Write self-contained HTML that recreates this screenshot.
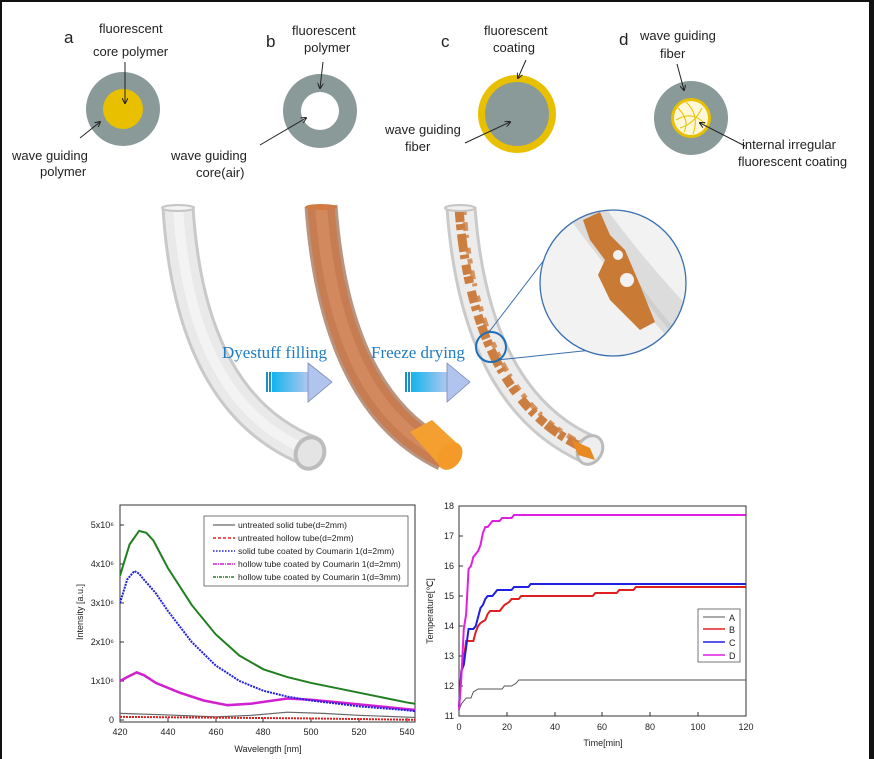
<!DOCTYPE html>
<html><head><meta charset="utf-8"><style>
html,body{margin:0;padding:0;background:#fff;}
svg{display:block;}
.t{font-family:"Liberation Sans",sans-serif;font-size:13px;fill:#222;}
.l{font-family:"Liberation Sans",sans-serif;font-size:17px;fill:#222;}
.ax{font-family:"Liberation Sans",sans-serif;font-size:9px;fill:#222;}
.lg{font-family:"Liberation Sans",sans-serif;font-size:8.5px;fill:#222;}
.bl{font-family:"Liberation Serif",serif;font-size:17px;fill:#1e7bc4;}
</style></head><body>
<svg width="874" height="759" viewBox="0 0 874 759" xmlns="http://www.w3.org/2000/svg">
<defs>
<linearGradient id="ag" x1="0" y1="0" x2="1" y2="0"><stop offset="0" stop-color="#12b4ec"/><stop offset="1" stop-color="#b8c8f0"/></linearGradient>
<marker id="ah" markerWidth="6" markerHeight="6" refX="5" refY="3" orient="auto"><path d="M0,0 L6,3 L0,6" fill="none" stroke="#222" stroke-width="1"/></marker>
<clipPath id="c1"><rect x="120" y="505" width="295" height="217"/></clipPath>
<clipPath id="cz"><circle cx="613" cy="283" r="73"/></clipPath>
</defs>
<rect x="0" y="0" width="874" height="2" fill="#111"/>
<rect x="0" y="0" width="2" height="759" fill="#111"/>
<rect x="869" y="0" width="5" height="759" fill="#111"/>

<!-- top diagrams -->
<text class="l" x="64" y="43">a</text>
<text class="t" x="99" y="33">fluorescent</text>
<text class="t" x="93" y="56">core polymer</text>
<circle cx="123" cy="109" r="37" fill="#8a9a98"/>
<circle cx="123" cy="109" r="20" fill="#e8c000"/>
<line x1="125" y1="62" x2="125" y2="103" stroke="#222" marker-end="url(#ah)"/>
<line x1="80" y1="138" x2="100" y2="122" stroke="#222" marker-end="url(#ah)"/>
<text class="t" x="12" y="160">wave guiding</text>
<text class="t" x="40" y="176">polymer</text>

<text class="l" x="266" y="47">b</text>
<text class="t" x="292" y="35">fluorescent</text>
<text class="t" x="304" y="52">polymer</text>
<circle cx="320" cy="111" r="37" fill="#8a9a98"/>
<circle cx="320" cy="111" r="19" fill="#fff"/>
<line x1="323" y1="62" x2="320" y2="88" stroke="#222" marker-end="url(#ah)"/>
<line x1="260" y1="145" x2="306" y2="118" stroke="#222" marker-end="url(#ah)"/>
<text class="t" x="171" y="160">wave guiding</text>
<text class="t" x="196" y="177">core(air)</text>

<text class="l" x="441" y="47">c</text>
<text class="t" x="484" y="35">fluorescent</text>
<text class="t" x="493" y="52">coating</text>
<circle cx="517" cy="114" r="39" fill="#e8c000"/>
<circle cx="517" cy="114" r="32" fill="#8a9a98"/>
<line x1="526" y1="60" x2="518" y2="78" stroke="#222" marker-end="url(#ah)"/>
<line x1="465" y1="143" x2="510" y2="122" stroke="#222" marker-end="url(#ah)"/>
<text class="t" x="385" y="134">wave guiding</text>
<text class="t" x="405" y="151">fiber</text>

<text class="l" x="619" y="45">d</text>
<text class="t" x="640" y="40">wave guiding</text>
<text class="t" x="660" y="58">fiber</text>
<circle cx="691" cy="118" r="37" fill="#8a9a98"/>
<circle cx="691" cy="118" r="20" fill="#e8c000"/>
<circle cx="691" cy="118" r="17" fill="#fff8d8"/>
<path d="M678,108 Q690,120 684,132 M686,102 Q700,115 693,134 M676,120 Q692,110 705,124 M680,128 Q694,124 702,108" stroke="#e8c000" stroke-width="1" fill="none"/>
<line x1="677" y1="64" x2="684" y2="90" stroke="#222" marker-end="url(#ah)"/>
<line x1="745" y1="146" x2="700" y2="123" stroke="#222" marker-end="url(#ah)"/>
<text class="t" x="742" y="149">internal  irregular</text>
<text class="t" x="738" y="166">fluorescent coating</text>

<!-- tubes -->
<path d="M178,207 Q190,405 312,452" stroke="#c9c9c9" stroke-width="33" fill="none"/>
<path d="M178,207 Q190,405 312,452" stroke="#e9e9e9" stroke-width="27" fill="none"/>
<path d="M178,207 Q190,405 312,452" stroke="#f3f3f3" stroke-width="10" fill="none"/>
<ellipse cx="178" cy="208" rx="16" ry="3" fill="#f3f3f3" stroke="#c5c5c5" stroke-width="2"/>
<ellipse cx="310" cy="453" rx="14" ry="16" transform="rotate(25 310 453)" fill="#e4e4e4" stroke="#bdbdbd" stroke-width="4"/>

<path d="M321,206 Q335,402 445,455" stroke="#b89580" stroke-width="33" fill="none"/>
<path d="M321,206 Q335,402 445,455" stroke="#c87c52" stroke-width="27" fill="none"/>
<path d="M321,206 Q335,402 445,455" stroke="#d2895e" stroke-width="12" fill="none"/>
<ellipse cx="321" cy="207" rx="16" ry="3" fill="#d07a44"/>
<path d="M410,432 L432,420 L462,448 L440,466 Z" fill="#f4a030"/>
<ellipse cx="450" cy="456" rx="11" ry="15" transform="rotate(35 450 456)" fill="#f39a28"/>

<path d="M461,208 Q475,400 590,450" stroke="#cacaca" stroke-width="31" fill="none"/>
<path d="M461,208 Q475,400 590,450" stroke="#ececec" stroke-width="25" fill="none"/>
<path d="M459,208 Q473,400 588,450" stroke="#c8722e" stroke-width="9" stroke-dasharray="14 2 6 4 18 3 4 6 10 2 7 8 12 3 5 5 9 2" fill="none" opacity="0.9"/>
<path d="M464,210 Q478,398 591,448" stroke="#d08040" stroke-width="5" stroke-dasharray="5 7 9 4 3 10 6 5" fill="none" opacity="0.8"/>
<ellipse cx="460" cy="208" rx="15" ry="3" fill="#f0f0f0" stroke="#c5c5c5" stroke-width="2"/>
<ellipse cx="590" cy="450" rx="12" ry="15" transform="rotate(30 590 450)" fill="#eee" stroke="#bbb" stroke-width="3"/>
<path d="M572,440 L590,448 L595,460 L578,455 Z" fill="#e88a20"/>

<!-- zoom -->
<line x1="489" y1="332" x2="567" y2="230" stroke="#3a6fb0" stroke-width="1"/>
<line x1="497" y1="360" x2="630" y2="346" stroke="#3a6fb0" stroke-width="1"/>
<circle cx="613" cy="283" r="73" fill="#f2f2f2"/>
<g clip-path="url(#cz)">
<path d="M560,205 Q620,290 690,360 L720,340 Q650,270 600,200 Z" fill="#dcdcdc"/>
<path d="M588,205 Q630,285 690,350" stroke="#cfcfcf" stroke-width="5" fill="none"/>
<path d="M583,220 L600,212 L610,235 L625,250 L640,285 L648,305 L655,322 L640,330 L628,318 L610,300 L598,275 L605,260 L590,240 Z" fill="#c97a35"/>
</g>
<circle cx="627" cy="280" r="7" fill="#f2f2f2"/>
<circle cx="618" cy="255" r="5" fill="#f2f2f2"/>
<circle cx="613" cy="283" r="73" fill="none" stroke="#3a6fb0" stroke-width="1.3"/>
<circle cx="491" cy="347" r="15" fill="none" stroke="#1e6fb8" stroke-width="2"/>

<!-- arrows -->
<text class="bl" x="222" y="358">Dyestuff filling</text>
<text class="bl" x="371" y="358">Freeze drying</text>
<rect x="266" y="372" width="2" height="20" fill="#1a90c8"/>
<rect x="269" y="372" width="2" height="20" fill="#1a90c8"/>
<rect x="272" y="372" width="38" height="20" fill="url(#ag)"/>
<polygon points="308,363 332,382 308,402" fill="#b0c4ee" stroke="#7a8ab0" stroke-width="0.8"/>
<rect x="405" y="372" width="2" height="20" fill="#1a90c8"/>
<rect x="408" y="372" width="2" height="20" fill="#1a90c8"/>
<rect x="411" y="372" width="38" height="20" fill="url(#ag)"/>
<polygon points="447,363 470,382 447,402" fill="#b0c4ee" stroke="#7a8ab0" stroke-width="0.8"/>

<!-- left chart -->
<rect x="120" y="505" width="295" height="217" fill="none" stroke="#333" stroke-width="1"/>
<g class="ax" text-anchor="middle">
<text x="120" y="735">420</text><text x="168" y="735">440</text><text x="216" y="735">460</text><text x="263" y="735">480</text><text x="311" y="735">500</text><text x="359" y="735">520</text><text x="407" y="735">540</text>
</g>
<g class="ax" text-anchor="end">
<text x="114" y="723">0</text><text x="114" y="684">1x10⁶</text><text x="114" y="645">2x10⁶</text><text x="114" y="606">3x10⁶</text><text x="114" y="567">4x10⁶</text><text x="114" y="528">5x10⁶</text>
</g>
<g stroke="#333" stroke-width="1">
<line x1="120" y1="720" x2="124" y2="720"/><line x1="120" y1="681" x2="124" y2="681"/><line x1="120" y1="642" x2="124" y2="642"/><line x1="120" y1="603" x2="124" y2="603"/><line x1="120" y1="564" x2="124" y2="564"/><line x1="120" y1="525" x2="124" y2="525"/>
<line x1="168" y1="722" x2="168" y2="718"/><line x1="216" y1="722" x2="216" y2="718"/><line x1="263" y1="722" x2="263" y2="718"/><line x1="311" y1="722" x2="311" y2="718"/><line x1="359" y1="722" x2="359" y2="718"/><line x1="407" y1="722" x2="407" y2="718"/>
</g>
<text class="ax" x="268" y="752" text-anchor="middle" font-size="10">Wavelength [nm]</text>
<text class="ax" x="83" y="612" text-anchor="middle" font-size="10" transform="rotate(-90 83 612)">Intensity [a.u.]</text>
<g clip-path="url(#c1)">
<g transform="translate(120,720) scale(2.39,-39)" fill="none">
<polyline vector-effect="non-scaling-stroke" stroke="#666" stroke-width="1.2" points="0,0.17 20,0.13 40,0.08 55,0.12 70,0.2 85,0.17 100,0.12 130,0.05"/>
<polyline vector-effect="non-scaling-stroke" stroke="#e02020" stroke-width="2" stroke-dasharray="2 1" points="0,0.08 40,0.06 80,0.04 130,0"/>
<polyline vector-effect="non-scaling-stroke" stroke="#d020d0" stroke-width="2.5" points="0,1.0 3,1.1 7,1.22 10,1.15 15,0.95 25,0.7 35,0.5 45,0.38 55,0.42 70,0.55 80,0.52 100,0.4 120,0.28 130,0.22"/>
<polyline vector-effect="non-scaling-stroke" stroke="#2020e0" stroke-width="2" stroke-dasharray="2 1" points="0,3.0 3,3.6 6,3.82 8,3.75 10,3.6 15,3.25 20,2.8 30,2.0 40,1.4 50,1.0 60,0.75 70,0.6 80,0.5 100,0.35 120,0.25 130,0.18"/>
<polyline vector-effect="non-scaling-stroke" stroke="#208020" stroke-width="2" points="0,3.7 4,4.5 8,4.85 11,4.8 14,4.6 20,3.9 30,2.95 40,2.2 50,1.65 60,1.3 70,1.1 80,0.95 100,0.7 120,0.45 130,0.35"/>
</g>
</g>
<rect x="204" y="516" width="204" height="70" fill="#fff" stroke="#555" stroke-width="0.8"/>
<line x1="213" y1="525" x2="235" y2="525" stroke="#666" stroke-width="1.2"/>
<line x1="213" y1="538" x2="235" y2="538" stroke="#e02020" stroke-width="1.5" stroke-dasharray="3 2"/>
<line x1="213" y1="551" x2="235" y2="551" stroke="#2020e0" stroke-width="1.5" stroke-dasharray="1.5 1.5"/>
<line x1="213" y1="564" x2="235" y2="564" stroke="#d020d0" stroke-width="1.5" stroke-dasharray="4 1 1 1"/>
<line x1="213" y1="577" x2="235" y2="577" stroke="#208020" stroke-width="1.5" stroke-dasharray="3 1 1 1"/>
<g class="lg">
<text x="238" y="528">untreated solid tube(d=2mm)</text>
<text x="238" y="541">untreated hollow tube(d=2mm)</text>
<text x="238" y="554">solid tube coated by Coumarin 1(d=2mm)</text>
<text x="238" y="567">hollow tube coated by Coumarin 1(d=2mm)</text>
<text x="238" y="580">hollow tube coated by Coumarin 1(d=3mm)</text>
</g>

<!-- right chart -->
<rect x="459" y="506" width="287" height="210" fill="none" stroke="#333" stroke-width="1"/>
<g class="ax" text-anchor="middle">
<text x="459" y="730">0</text><text x="507" y="730">20</text><text x="555" y="730">40</text><text x="602" y="730">60</text><text x="650" y="730">80</text><text x="698" y="730">100</text><text x="746" y="730">120</text>
</g>
<g class="ax" text-anchor="end">
<text x="454" y="719">11</text><text x="454" y="689">12</text><text x="454" y="659">13</text><text x="454" y="629">14</text><text x="454" y="599">15</text><text x="454" y="569">16</text><text x="454" y="539">17</text><text x="454" y="509">18</text>
</g>
<g stroke="#333" stroke-width="1">
<line x1="459" y1="686" x2="463" y2="686"/><line x1="459" y1="656" x2="463" y2="656"/><line x1="459" y1="626" x2="463" y2="626"/><line x1="459" y1="596" x2="463" y2="596"/><line x1="459" y1="566" x2="463" y2="566"/><line x1="459" y1="536" x2="463" y2="536"/>
<line x1="507" y1="716" x2="507" y2="712"/><line x1="555" y1="716" x2="555" y2="712"/><line x1="602" y1="716" x2="602" y2="712"/><line x1="650" y1="716" x2="650" y2="712"/><line x1="698" y1="716" x2="698" y2="712"/>
</g>
<text class="ax" x="603" y="746" text-anchor="middle" font-size="10">Time[min]</text>
<text class="ax" x="433" y="611" text-anchor="middle" font-size="10" transform="rotate(-90 433 611)">Temperature[℃]</text>
<g transform="translate(459,716) scale(2.39,-30)" fill="none">
<polyline vector-effect="non-scaling-stroke" stroke="#555" stroke-width="1" points="0,0.2 1,0.4 3,0.6 5,0.6 6,0.8 8,0.9 18,0.9 19,1.0 22,1.0 24,1.1 25,1.2 120,1.2"/>
<polyline vector-effect="non-scaling-stroke" stroke="#e02020" stroke-width="2" points="0,0.3 1,1.5 2,1.9 3,2.5 6,2.5 7,2.8 8,3.0 9,3.1 11,3.2 12,3.4 13,3.5 17,3.5 18,3.6 19,3.7 21,3.8 22,3.9 25,3.9 26,4.0 56,4.0 57,4.1 66,4.1 67,4.2 73,4.2 74,4.3 120,4.3"/>
<polyline vector-effect="non-scaling-stroke" stroke="#2020e0" stroke-width="2" points="0,0.3 1,1.5 2,1.7 3,2.3 4,2.9 6,2.9 7,3.0 8,3.3 9,3.6 10,3.7 11,3.9 12,4.0 14,4.0 15,4.1 16,4.2 22,4.2 23,4.3 29,4.3 30,4.4 120,4.4"/>
<polyline vector-effect="non-scaling-stroke" stroke="#e020e0" stroke-width="2" points="0,0.2 1,1.3 2,2.9 3,3.4 4,4.9 5,5.0 6,5.3 7,5.4 8,5.5 9,5.7 10,6.1 11,6.3 12,6.3 13,6.4 14,6.5 17,6.5 18,6.6 22,6.6 23,6.7 120,6.7"/>
</g>
<rect x="698" y="609" width="42" height="53" fill="#fff" stroke="#555" stroke-width="0.8"/>
<line x1="703" y1="617" x2="725" y2="617" stroke="#555" stroke-width="1"/>
<line x1="703" y1="629" x2="725" y2="629" stroke="#e02020" stroke-width="1.5"/>
<line x1="703" y1="642" x2="725" y2="642" stroke="#2020e0" stroke-width="1.5"/>
<line x1="703" y1="655" x2="725" y2="655" stroke="#e020e0" stroke-width="1.5"/>
<g class="ax">
<text x="729" y="621">A</text><text x="729" y="633">B</text><text x="729" y="646">C</text><text x="729" y="659">D</text>
</g>
</svg>
</body></html>
